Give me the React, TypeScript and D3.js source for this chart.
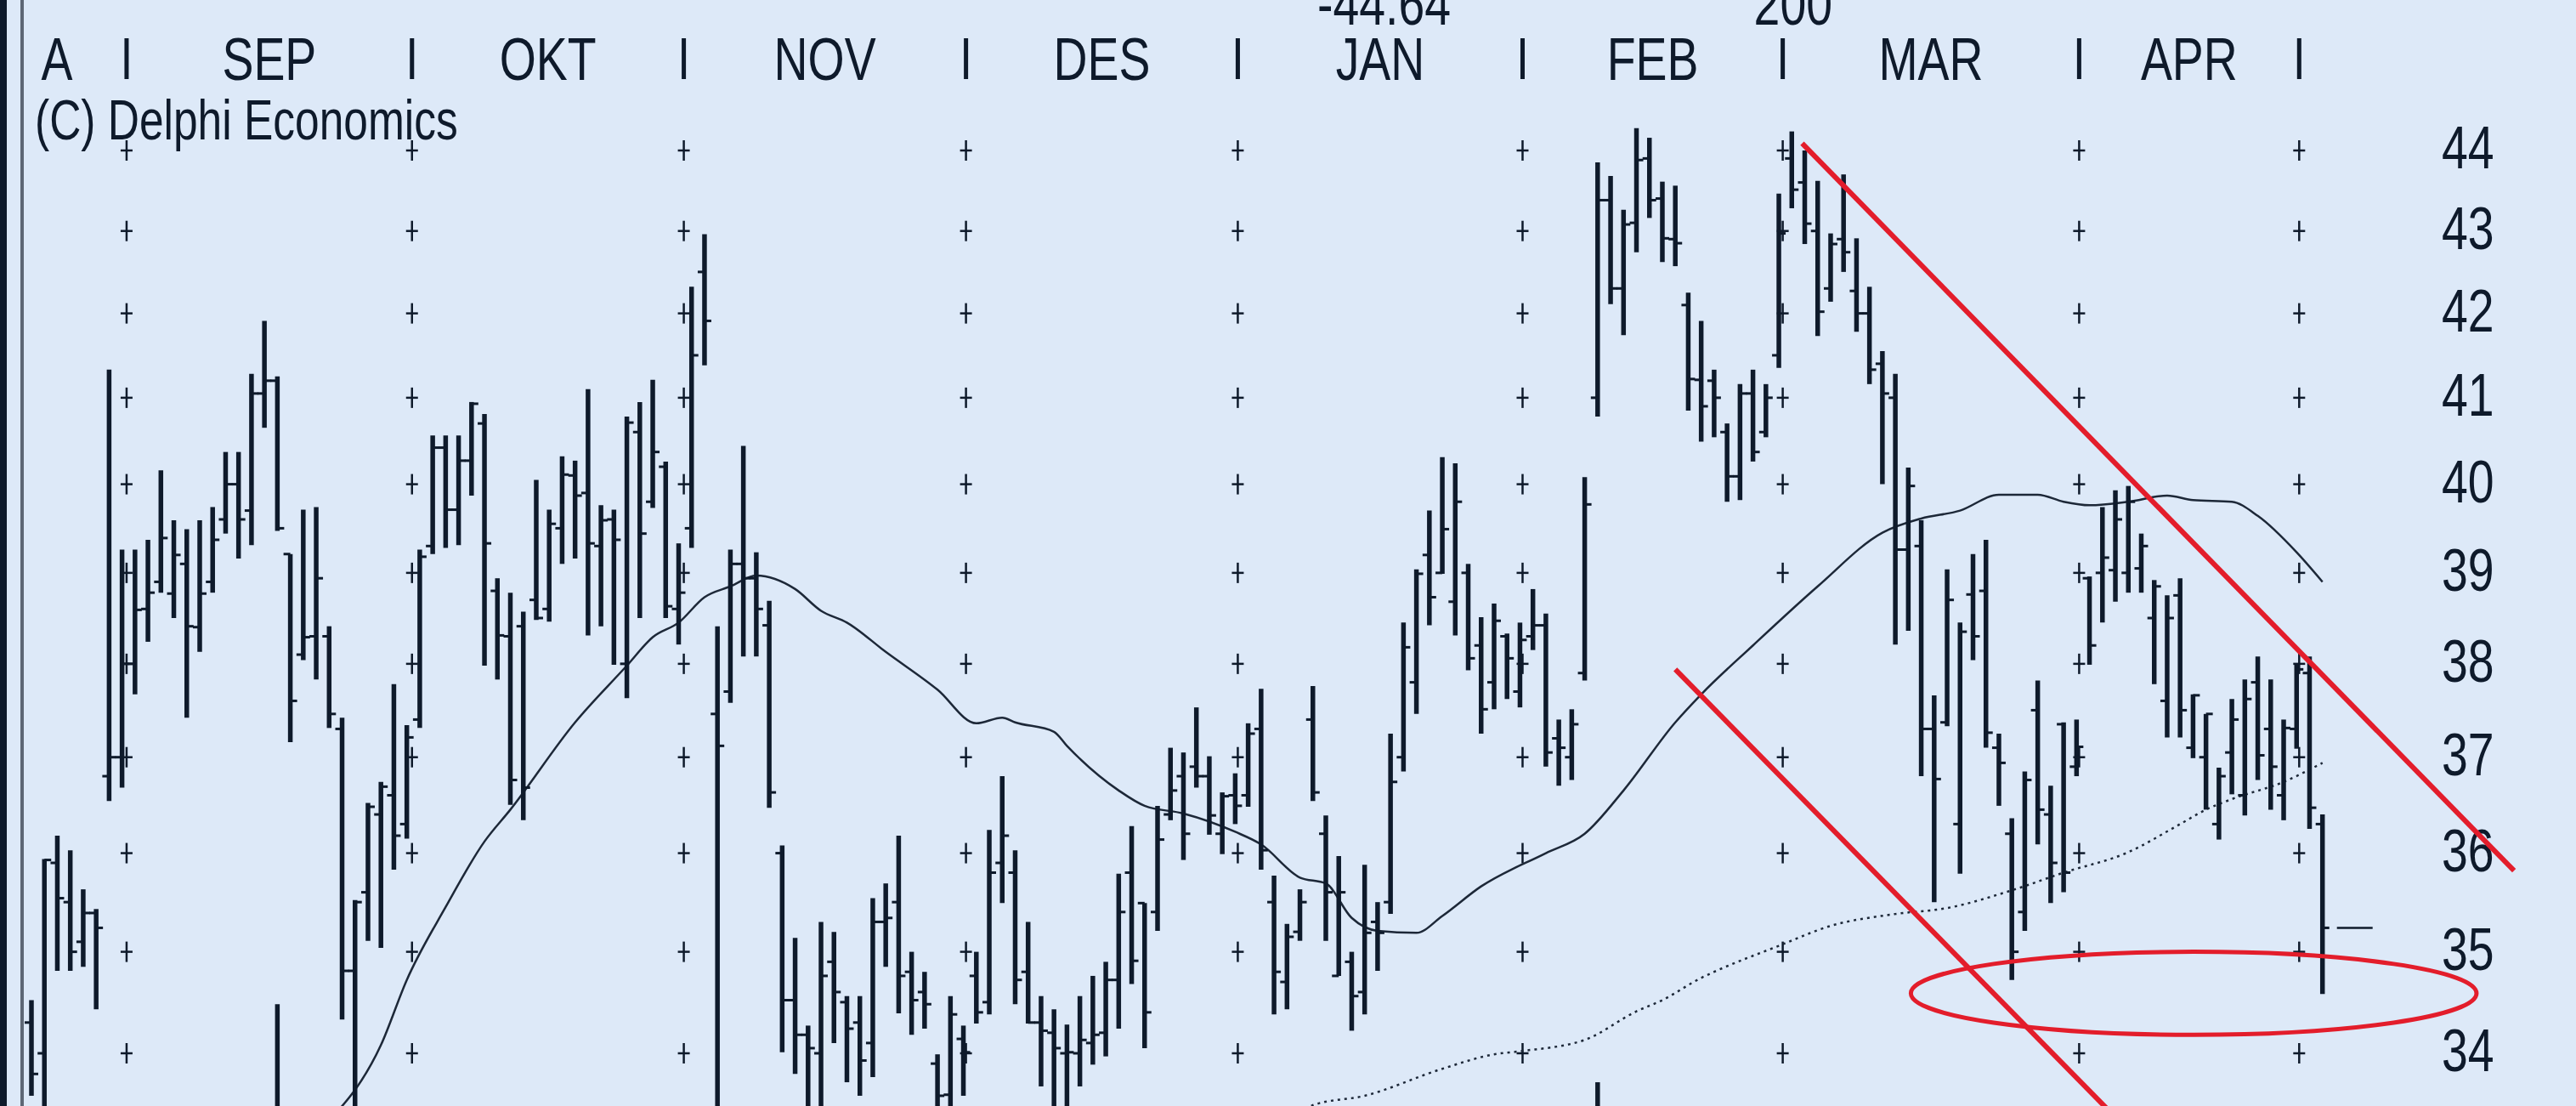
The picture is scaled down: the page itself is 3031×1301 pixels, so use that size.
import React from "react";
import * as d3 from "d3";

const W = 3031;
const H = 1301;

// daily bars, Aug -> early May (index = trading day)
const opens = [
  34.3, 34.0, 35.9, 35.5, 35.1, 35.39, 36.8, 37.0, 38.0, 38.6,
  38.9, 38.77, 39.1, 38.4, 38.9, 39.6, 40.0, 39.7, 41.05, 41.2,
  39.21, 38.1, 38.3, 38.3, 37.3, 34.81, 35.6, 36.4, 36.6, 36.3,
  37.4, 39.3, 40.42, 39.71, 40.27, 40.7, 38.8, 38.3, 38.41, 38.7,
  38.6, 39.5, 40.1, 39.9, 39.3, 39.6, 38.0, 40.6, 39.8, 40.2,
  38.6, 39.5, 42.5, 37.46, 37.7, 39.1, 38.94, 38.42, 36.0, 34.52,
  34.18, 34.0, 34.9, 34.5, 34.3, 34.1, 35.3, 35.5, 34.8, 34.6,
  33.9, 33.6, 34.14, 34.76, 34.5, 35.9, 35.8, 34.8, 34.3, 34.2,
  34.0, 34.0, 34.1, 34.2, 34.72, 35.8, 35.49, 35.4, 36.4, 36.8,
  36.9, 36.8, 36.2, 36.6, 36.6, 37.3, 35.5, 34.7, 35.2, 37.4,
  36.2, 34.76, 34.9, 34.6, 35.3, 35.5, 37.0, 37.8, 39.2, 39.0,
  38.68, 39.0, 38.2, 37.8, 38.3, 37.7, 38.3, 38.42, 37.2, 37.0,
  37.9, 41.0, 43.38, 42.3, 43.1, 43.9, 43.4, 42.9, 42.1, 41.21,
  41.2, 40.6, 40.09, 41.05, 40.6, 41.5, 43.9, 43.6, 43.0, 42.3,
  42.9, 42.27, 42.0, 41.4, 41.0, 39.26, 39.3, 37.3, 37.37, 36.3,
  38.76, 38.8, 37.1, 36.2, 35.4, 37.5, 36.4, 37.35, 36.9, 38.94,
  39.0, 39.03, 39.0, 39.05, 38.5, 37.6, 38.75, 37.1, 37.0, 36.3,
  37.05, 36.6, 37.8, 37.3, 36.6, 37.3, 37.9, 36.3,
];
const highs = [
  34.52, 35.94, 36.18, 36.03, 35.63, 35.43, 41.33, 39.26, 39.26, 39.37,
  40.16, 39.59, 39.49, 39.59, 39.74, 40.37, 40.37, 41.28, 41.91, 41.25,
  39.21, 39.71, 39.74, 38.41, 37.42, 35.52, 36.52, 36.74, 37.78, 37.34,
  39.26, 40.56, 40.56, 40.56, 40.95, 40.81, 38.94, 38.78, 38.57, 40.05,
  39.71, 40.32, 40.27, 41.1, 39.76, 39.71, 40.78, 40.95, 41.21, 40.26,
  39.33, 42.32, 42.96, 38.41, 39.26, 40.44, 39.23, 38.69, 36.08, 35.14,
  34.27, 35.3, 35.2, 34.56, 34.56, 35.54, 35.69, 36.18, 35.0, 34.8,
  33.99, 34.56, 34.27, 35.0, 36.24, 36.8, 36.03, 35.3, 34.56, 34.43,
  34.28, 34.56, 34.76, 34.9, 35.79, 36.28, 35.49, 36.49, 37.1, 37.05,
  37.53, 37.01, 36.63, 36.83, 37.36, 37.73, 35.77, 35.28, 35.63, 37.76,
  36.39, 35.97, 35.0, 35.88, 35.5, 37.25, 38.45, 39.04, 39.7, 40.31,
  40.24, 39.1, 38.51, 38.66, 38.33, 38.45, 38.82, 38.55, 37.4, 37.51,
  40.08, 43.85, 43.68, 43.26, 44.28, 44.16, 43.61, 43.56, 42.25, 41.91,
  41.33, 40.7, 41.16, 41.33, 41.16, 43.46, 44.24, 44.0, 43.62, 42.97,
  43.7, 42.91, 42.32, 41.55, 41.28, 40.19, 39.59, 37.66, 39.04, 38.45,
  39.21, 39.37, 37.25, 36.36, 36.85, 37.82, 36.7, 37.37, 37.4, 38.96,
  39.74, 39.93, 39.98, 39.44, 38.92, 38.75, 38.94, 37.67, 37.46, 36.89,
  37.62, 37.83, 38.08, 37.83, 37.4, 38.0, 38.08, 36.4,
];
const lows = [
  33.59, 33.3, 34.81, 34.81, 34.85, 34.43, 36.54, 36.68, 37.67, 38.24,
  38.78, 38.5, 37.42, 38.13, 38.78, 39.44, 39.16, 39.31, 40.65, 39.47,
  37.16, 38.04, 37.83, 37.31, 34.33, 33.3, 35.11, 35.04, 35.83, 36.15,
  37.31, 39.21, 39.28, 39.31, 39.87, 37.98, 37.83, 36.5, 36.34, 38.48,
  38.46, 39.1, 39.16, 38.31, 38.41, 37.99, 37.63, 38.5, 39.73, 38.5,
  38.21, 39.28, 41.38, 33.3, 37.58, 38.08, 38.08, 36.47, 34.01, 33.8,
  33.3, 33.3, 34.1, 33.72, 33.59, 33.77, 34.85, 34.39, 34.18, 34.24,
  33.3, 33.3, 33.59, 34.29, 34.38, 35.49, 34.48, 34.29, 33.68, 33.3,
  33.3, 33.68, 33.89, 33.97, 34.24, 34.68, 34.05, 35.21, 36.34, 35.93,
  36.68, 36.19, 35.99, 36.3, 36.48, 35.83, 34.38, 34.43, 35.11, 36.54,
  35.11, 34.76, 34.22, 34.38, 34.81, 35.38, 36.85, 37.46, 38.42, 38.99,
  38.31, 37.93, 37.25, 37.51, 37.62, 37.53, 38.15, 36.9, 36.7, 36.76,
  37.82, 40.78, 42.11, 41.74, 42.74, 43.16, 42.62, 42.57, 40.85, 40.49,
  40.54, 39.8, 39.82, 40.26, 40.54, 41.35, 43.28, 42.84, 41.73, 42.14,
  42.5, 41.78, 41.16, 40.0, 38.21, 38.36, 36.8, 35.5, 37.33, 35.79,
  38.04, 37.1, 36.49, 34.72, 35.21, 36.09, 35.49, 35.6, 36.8, 37.99,
  38.45, 38.68, 38.78, 38.78, 37.78, 37.21, 37.21, 36.99, 36.45, 36.14,
  36.61, 36.39, 36.76, 36.45, 36.34, 37.09, 36.25, 34.58,
];
const closes = [
  33.8, 35.93, 35.54, 35.0, 35.39, 35.24, 37.0, 38.0, 38.59, 38.78,
  39.39, 39.2, 38.41, 38.77, 39.37, 40.0, 39.6, 41.05, 41.2, 39.5,
  37.6, 38.29, 38.94, 37.46, 34.81, 35.5, 36.48, 36.69, 36.18, 37.21,
  39.18, 40.42, 39.71, 40.27, 40.93, 39.33, 38.31, 36.76, 36.68, 38.5,
  39.55, 40.11, 39.87, 39.33, 39.59, 39.37, 40.71, 39.44, 40.37, 38.63,
  38.78, 41.5, 41.91, 37.12, 39.1, 38.94, 38.6, 36.63, 34.52, 34.18,
  34.05, 34.76, 34.6, 34.24, 33.93, 35.3, 35.34, 34.76, 34.52, 34.48,
  33.59, 34.38, 34.01, 34.4, 35.8, 36.18, 34.72, 34.3, 34.22, 34.05,
  34.01, 34.13, 34.18, 34.72, 35.4, 34.91, 34.4, 36.14, 36.65, 36.2,
  36.8, 36.39, 36.59, 36.49, 37.25, 36.03, 34.8, 35.15, 35.5, 36.63,
  35.6, 35.6, 34.56, 35.19, 35.19, 36.74, 38.18, 38.99, 38.73, 39.49,
  39.8, 38.06, 37.51, 38.47, 38.06, 38.26, 38.42, 37.05, 37.1, 37.35,
  39.77, 43.38, 42.3, 43.08, 43.88, 43.38, 42.91, 42.85, 41.22, 40.9,
  41.0, 40.09, 41.05, 40.37, 41.0, 42.97, 43.51, 43.09, 42.02, 42.84,
  42.74, 42.0, 41.33, 41.05, 39.26, 39.98, 37.3, 36.77, 38.7, 38.35,
  38.3, 37.26, 36.94, 35.0, 36.76, 36.45, 35.9, 35.8, 37.11, 38.2,
  39.17, 39.6, 39.8, 39.3, 38.85, 38.5, 37.5, 37.66, 37.46, 36.8,
  37.4, 37.62, 37.02, 36.9, 37.31, 37.94, 36.47, 35.24,
];

// month header
const months = ["A", "SEP", "OKT", "NOV", "DES", "JAN", "FEB", "MAR", "APR"];
const monthBreaks = [-3.4, 7.35, 29.4, 50.4, 72.2, 93.2, 115.2, 135.3, 158.2, 175.2];
const priceTicks = [34, 35, 36, 37, 38, 39, 40, 41, 42, 43, 44];
const headerValues = [
  { at: 104.5, text: "-44.64" },
  { at: 136.1, text: "200" },
];

// moving averages: [day, price]
const maShort = [
  [23, 33.35], [27, 34.08], [29, 34.72], [32, 35.45], [35, 36.12], [37, 36.45],
  [42, 37.37], [46, 37.98], [48, 38.29], [50, 38.45], [52, 38.73], [54, 38.85],
  [56, 38.97], [59, 38.82], [61, 38.58], [63, 38.45], [66, 38.13], [70, 37.72],
  [73, 37.36], [75, 37.42], [76, 37.37], [79, 37.27], [80, 37.12], [84, 36.65],
  [86, 36.49], [89, 36.41], [93, 36.22], [95, 36.09], [98, 35.75], [100, 35.69],
  [102, 35.34], [104, 35.21], [107, 35.19], [109, 35.36], [112, 35.66], [117, 36.0],
  [120, 36.2], [123, 36.65], [127, 37.37], [129, 37.67], [133, 38.2], [138, 38.85],
  [143, 39.45], [146, 39.61], [149, 39.7], [152, 39.88], [155, 39.88], [157, 39.8],
  [159, 39.76], [162, 39.8], [165, 39.87], [167, 39.82], [170, 39.8], [172, 39.64],
  [175, 39.23], [177, 38.9],
];
const maLong = [
  [98, 33.42], [99, 33.5], [103, 33.59], [109, 33.85], [113, 33.99], [115, 34.02],
  [120, 34.13], [124, 34.41], [126, 34.52], [129, 34.74], [130, 34.8], [135, 35.06],
  [139, 35.26], [144, 35.38], [148, 35.44], [153, 35.62], [157, 35.8], [162, 36.01],
  [166, 36.3], [168, 36.45], [170, 36.56], [174, 36.74], [177, 36.94],
];

// bars rising from the pane below
const lowerSpikes = [
  [19, 34.48],
  [121, 33.72],
];

// hand-drawn annotations
const upperTrend = [[136.8, 44.09], [191.8, 35.82]];
const lowerTrend = [[127.0, 37.94], [160.4, 33.46]];
const ellipseBox = { from: 145.2, to: 188.9, top: 35.0, bottom: 34.18 };

const INK = "#0e1a2b";
const RED = "#e31d2b";
const FONT = "'Liberation Sans', Arial, sans-serif";

function Narrow({ x, y, size, anchor = "middle", children }) {
  return (
    <text
      transform={`translate(${x},${y}) scale(0.78,1)`}
      textAnchor={anchor}
      fontSize={size}
      fontFamily={FONT}
      fill={INK}
    >
      {children}
    </text>
  );
}

export default function App() {
  const x = d3.scaleLinear().domain([0, 177]).range([37, 37 + 177 * 15.23]);
  const y = d3.scaleLog().domain([34, 44]).range([1239, 177]);

  const line = d3
    .line<number[]>()
    .x((d) => x(d[0]))
    .y((d) => y(d[1]))
    .curve(d3.curveMonotoneX);

  const cx = (x(ellipseBox.from) + x(ellipseBox.to)) / 2;
  const rx = (x(ellipseBox.to) - x(ellipseBox.from)) / 2;
  const cy = (y(ellipseBox.top) + y(ellipseBox.bottom)) / 2;
  const ry = (y(ellipseBox.bottom) - y(ellipseBox.top)) / 2;

  return (
    <svg
      width={W}
      height={H}
      style={{ position: "absolute", left: 0, top: 0, display: "block" }}
    >
      <rect width={W} height={H} fill="#dde9f8" />
      <rect x={0} y={0} width={8} height={H} fill={INK} />
      <rect x={24} y={0} width={4} height={H} fill="#5d6775" />

      {/* header values, cut by the top edge as in the original */}
      {headerValues.map((h) => (
        <Narrow key={h.text} x={x(h.at)} y={29} size={71}>
          {h.text}
        </Narrow>
      ))}

      {/* month labels and separators */}
      {months.map((m, k) => (
        <Narrow key={m} x={(x(monthBreaks[k]) + x(monthBreaks[k + 1])) / 2} y={94} size={71}>
          {m}
        </Narrow>
      ))}
      {monthBreaks.map((b) => (
        <rect key={"sep" + b} x={x(b) - 2.5} y={45} width={5} height={48} fill={INK} />
      ))}

      <Narrow x={41} y={164} size={66} anchor="start">
        (C) Delphi Economics
      </Narrow>

      {/* grid crosses */}
      {monthBreaks.map((b) =>
        priceTicks.map((p) => (
          <g key={b + "-" + p} stroke={INK} strokeWidth={2.5}>
            <line x1={x(b) - 7} x2={x(b) + 7} y1={y(p)} y2={y(p)} />
            <line x1={x(b)} x2={x(b)} y1={y(p) - 12} y2={y(p) + 12} />
          </g>
        ))
      )}

      {/* price labels */}
      {priceTicks.map((p) => (
        <Narrow key={"lab" + p} x={2873} y={y(p) + 21} size={71} anchor="start">
          {p}
        </Narrow>
      ))}

      {/* moving averages */}
      <path d={line(maLong)} fill="none" stroke="#1d2838" strokeWidth={2.5} strokeDasharray="3 5" />
      <path d={line(maShort)} fill="none" stroke="#1d2838" strokeWidth={2.5} />

      {/* spikes from the pane below */}
      {lowerSpikes.map(([i, p]) => (
        <line key={"sp" + i} x1={x(i)} x2={x(i)} y1={y(p)} y2={H + 10} stroke={INK} strokeWidth={5.5} />
      ))}

      {/* OHLC bars */}
      {highs.map((h, i) => (
        <g key={i} stroke={INK}>
          <line x1={x(i)} x2={x(i)} y1={y(h)} y2={y(lows[i])} strokeWidth={5.5} />
          <line x1={x(i) - 8} x2={x(i)} y1={y(opens[i])} y2={y(opens[i])} strokeWidth={3} />
          <line x1={x(i)} x2={x(i) + 8} y1={y(closes[i])} y2={y(closes[i])} strokeWidth={3} />
        </g>
      ))}
      <line
        x1={x(177) + 17}
        x2={x(177) + 59}
        y1={y(closes[177])}
        y2={y(closes[177])}
        stroke={INK}
        strokeWidth={2.5}
      />

      {/* annotations */}
      <line
        x1={x(upperTrend[0][0])}
        y1={y(upperTrend[0][1])}
        x2={x(upperTrend[1][0])}
        y2={y(upperTrend[1][1])}
        stroke={RED}
        strokeWidth={6}
      />
      <line
        x1={x(lowerTrend[0][0])}
        y1={y(lowerTrend[0][1])}
        x2={x(lowerTrend[1][0])}
        y2={y(lowerTrend[1][1])}
        stroke={RED}
        strokeWidth={6}
      />
      <ellipse cx={cx} cy={cy} rx={rx} ry={ry} fill="none" stroke={RED} strokeWidth={5} />
    </svg>
  );
}
